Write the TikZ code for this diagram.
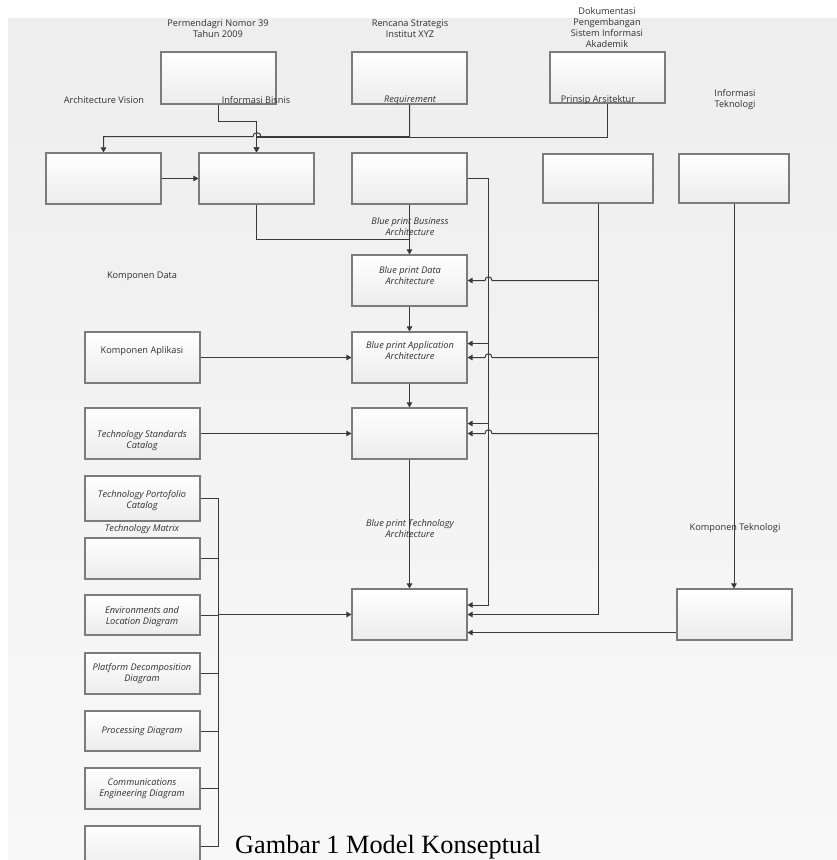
\documentclass[tikz,border=0pt]{standalone}
\usepackage{fontspec}
\usetikzlibrary{arrows.meta,calc}
\newfontfamily\labfont{Open Sans}
\newfontfamily\capfont{Liberation Serif}
\definecolor{linec}{HTML}{3A3A3A}
\definecolor{bordc}{HTML}{7C7C7C}
\definecolor{boxbot}{HTML}{ECECEC}
\definecolor{txtc}{HTML}{303030}
\definecolor{bgtop}{HTML}{EEEEEE}
\definecolor{bgbot}{HTML}{F8F8F8}
\tikzset{
 box/.style={draw=bordc, line width=1.1pt, top color=white, bottom color=boxbot, minimum width=115pt, minimum height=51pt, inner sep=0pt},
 lbl/.style={font=\labfont\fontsize{9.2}{11}\selectfont, text=txtc, align=center, inner sep=0pt},
 ilbl/.style={lbl, font=\labfont\itshape\fontsize{9.2}{11}\selectfont},
 conn/.style={draw=linec, line width=1pt},
 arr/.style={conn, -{Triangle[length=5pt,width=5.5pt]}},
 thk/.style={line width=1.7pt},
}
\begin{document}
\begin{tikzpicture}[x=1pt,y=-1pt]
\useasboundingbox (0,0) rectangle (837,860);
\fill[top color=bgtop, bottom color=bgbot] (8,18) rectangle (837,860);
% top row
\node[box, minimum height=52pt] (p1) at (218.5,78) {};
\node[box, minimum height=52pt] (p2) at (409.5,78) {};
\node[box] (p3) at (607.5,77.5) {};
% second row
\node[box] (av) at (103.5,178.5) {};
\node[box] (ib) at (256.5,178.5) {};
\node[box] (rq) at (409.5,178.5) {};
\node[box, minimum width=110pt, minimum height=49pt] (pa) at (598,178.5) {};
\node[box, minimum width=110pt, minimum height=49pt] (it) at (734,178.5) {};
% centre column
\node[box] (bd) at (409.5,280.5) {};
\node[box] (ba) at (409.5,357.5) {};
\node[box] (bt) at (409.5,433.5) {};
\node[box] (bf) at (409.5,614.5) {};
\node[box] (kt) at (734.5,614.5) {};
% left column
\node[box] (ka) at (142.5,357.5) {};
\node[box] (ts) at (142.5,433.5) {};
\node[box, minimum height=45pt] (tp) at (142.5,498.5) {};
\node[box, minimum height=41pt] (tm) at (142.5,558.5) {};
\node[box, minimum height=40pt] (env) at (142.5,615) {};
\node[box, minimum height=41pt] (pd) at (142.5,673.5) {};
\node[box, minimum height=40pt] (pr) at (142.5,731) {};
\node[box, minimum height=41pt] (cm) at (142.5,788.5) {};
\node[box, minimum height=41pt] (lb) at (142.5,846.5) {};
\coordinate (rbus) at (488.5,0);
\coordinate (lbus) at (218.5,0);
% connectors top
\draw[arr] (p1.south) -- ++(0,17) -| (ib.north);
\draw[arr] (p2.south) -- ++(0,32.5) -- (261,136.5) .. controls (261,131.5) and (253,131.5) .. (253,136.5) -| (av.north);
\draw[arr,thk] (p2.south) -- ++(0,32.5) -| (ib.north);
\draw[conn] (p3.south) |- ($(p2.south)+(0,32.5)$);
\draw[arr] (av.east) -- (ib.west);
\draw[conn] (ib.south) |- ($(rq.south)+(0,34.5)$);
\draw[arr] (rq.south) -- (bd.north);
\draw[arr] (bd.south) -- (ba.north);
\draw[arr] (ba.south) -- (bt.north);
\draw[arr] (bt.south) -- (bf.north);
% right bus from rq
\draw[conn,thk] (rq.east) -- (rbus |- rq.east);
\draw[arr] (rbus |- rq.east) |- ($(bf.east)+(0,-9.5)$);
\draw[arr] (rbus |- 0,343.5) -- (ba.east |- 0,343.5);
\draw[arr] (rbus |- 0,423.5) -- (bt.east |- 0,423.5);
% bus from pa with hops
\draw[arr] (pa.south) |- (bf.east);
\draw[arr] (pa.south |- bd.east) -- (492,280.5) .. controls (492,275.5) and (485,275.5) .. (485,280.5) -- (bd.east);
\draw[arr] (pa.south |- ba.east) -- (492,357.5) .. controls (492,352.5) and (485,352.5) .. (485,357.5) -- (ba.east);
\draw[arr] (pa.south |- bt.east) -- (492,433.5) .. controls (492,428.5) and (485,428.5) .. (485,433.5) -- (bt.east);
\draw[arr] (it.south) -- (it.south |- kt.north);
\draw[arr] ($(kt.south west)+(0,-8)$) -- ($(bf.south east)+(0,-8)$);
% left connectors
\draw[arr] (ka.east) -- (ba.west);
\draw[arr] (ts.east) -- (bt.west);
\draw[conn] (tp.east) -- (lbus |- tp.east) -- (lbus |- lb.east) -- (lb.east);
\draw[conn] (tm.east) -- (lbus |- tm.east);
\draw[conn] (env.east) -- (lbus |- env.east);
\draw[conn] (pd.east) -- (lbus |- pd.east);
\draw[conn] (pr.east) -- (lbus |- pr.east);
\draw[conn] (cm.east) -- (lbus |- cm.east);
\draw[arr,thk] (lbus |- bf.west) -- (bf.west);
% labels
\node[lbl] (l1) at (218,28.5) {Permendagri Nomor 39\\Tahun 2009};
\node[lbl] (l2) at (410,28.5) {Rencana Strategis\\Institut XYZ};
\node[lbl] (l3) at (607,28) {Dokumentasi\\Pengembangan\\Sistem Informasi\\Akademik};
\node[lbl] (l4) at (104,100) {Architecture Vision};
\node[lbl] (l5) at (256,100) {Informasi Bisnis};
\node[ilbl] (l6) at (410,100) {Requirement};
\node[lbl] (l7) at (598,100) {Prinsip Arsitektur};
\node[lbl] (l8) at (735,100) {Informasi\\Teknologi};
\node[ilbl] (l9) at (410,226.5) {Blue print Business\\Architecture};
\node[lbl] (l10) at (142,276) {Komponen Data};
\node[ilbl] (l11) at (410,275.5) {Blue print Data\\Architecture};
\node[ilbl] (l12) at (410,351) {Blue print Application\\Architecture};
\node[lbl] (l13) at (142,351) {Komponen Aplikasi};
\node[ilbl] (l14) at (142,441) {Technology Standards\\Catalog};
\node[ilbl] (l15) at (142,500.5) {Technology Portofolio\\Catalog};
\node[ilbl] (l16) at (142,529) {Technology Matrix};
\node[ilbl] (l17) at (410,528.5) {Blue print Technology\\Architecture};
\node[lbl] (l18) at (735,528) {Komponen Teknologi};
\node[ilbl] (l19) at (142,617) {Environments and\\Location Diagram};
\node[ilbl] (l20) at (142,674) {Platform Decomposition\\Diagram};
\node[ilbl] (l21) at (142,731) {Processing Diagram};
\node[ilbl] (l22) at (142,788.5) {Communications\\Engineering Diagram};
\node[anchor=base west, inner sep=0pt, font=\capfont\fontsize{26.3}{30}\selectfont, text=black] (cap) at (235,853) {Gambar 1 Model Konseptual};
\end{tikzpicture}
\end{document}
